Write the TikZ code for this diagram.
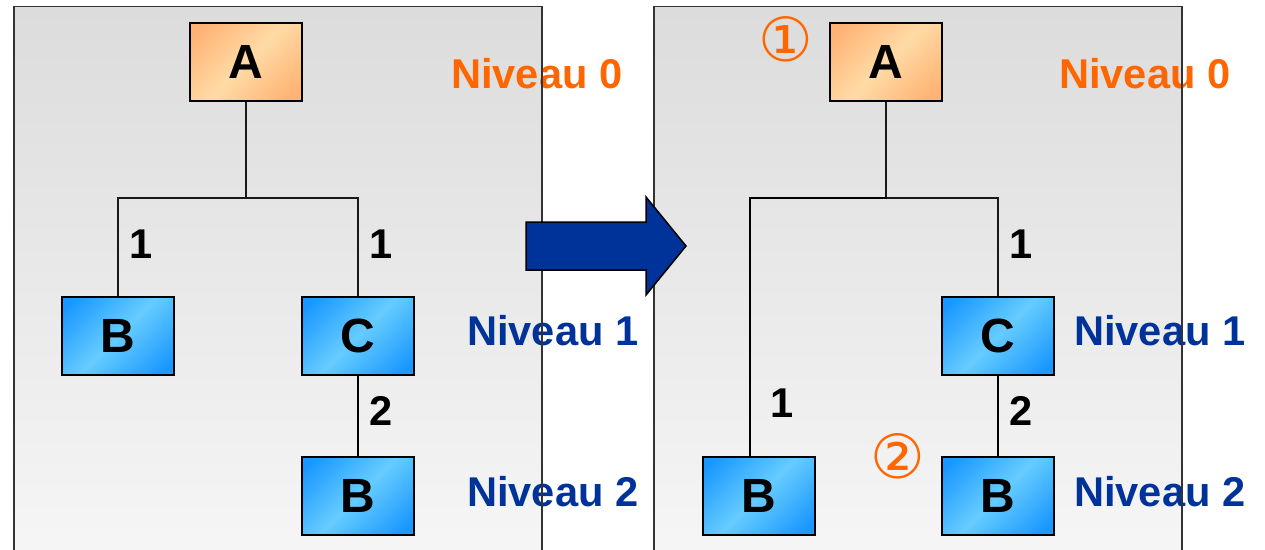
\documentclass[tikz,border=0pt]{standalone}
\usepackage{fontspec}
\setmainfont{Liberation Sans}
\newfontfamily\circfont{DejaVu Sans}
\definecolor{navyarrow}{HTML}{003399}
\definecolor{lvltext}{HTML}{003399}
\definecolor{orangetext}{HTML}{FF6600}
\definecolor{panelTop}{HTML}{DCDCDC}
\definecolor{panelBot}{HTML}{F6F6F6}
\definecolor{bdark}{HTML}{1A98FF}
\definecolor{blight}{HTML}{66CCFF}
\definecolor{odark}{HTML}{FFB273}
\definecolor{olight}{HTML}{FFDBA6}
\pgfdeclarehorizontalshading{blueref}{100bp}{color(0bp)=(bdark); color(20bp)=(bdark); color(50bp)=(blight); color(80bp)=(bdark); color(100bp)=(bdark)}
\pgfdeclarehorizontalshading{orangeref}{100bp}{color(0bp)=(odark); color(20bp)=(odark); color(50bp)=(olight); color(80bp)=(odark); color(100bp)=(odark)}
\begin{document}
\begin{tikzpicture}[x=1pt,y=-1pt,
  panel/.style={draw=black!80,line width=1.8pt},
  paneltint/.style={top color=panelTop,bottom color=panelBot,draw=none},
  blk/.style={draw=black,line width=2pt,minimum width=112pt,minimum height=78pt,inner sep=0pt,
     font=\fontsize{48}{50}\selectfont\bfseries},
  bluebox/.style={blk,shading=blueref,shading angle=-45},
  orangebox/.style={blk,shading=orangeref,shading angle=-45},
  thinline/.style={draw=black!90,line width=1.5pt},
  thickline/.style={draw=black,line width=2.6pt},
  edgelbl/.style={inner sep=0pt,font=\fontsize{41.6}{44}\selectfont\bfseries},
  lvl/.style={inner sep=0pt,anchor=west,font=\fontsize{41.6}{44}\selectfont\bfseries},
  circnum/.style={inner sep=0pt,text=orangetext,font=\circfont\fontsize{61}{64}\selectfont}
]
\useasboundingbox (0,0) rectangle (1265,549);
\clip (0,0) rectangle (1265,549);
\fill[white] (0,0) rectangle (1265,549);
% panel backgrounds
\shade[paneltint] (14,6.5) rectangle (542,560);
\shade[paneltint] (654,6.5) rectangle (1182,560);

% ---------- left tree ----------
\node[orangebox] (LA) at (246,62) {A};
\node[bluebox] (LB) at (118,335.5) {B};
\node[bluebox] (LC) at (358,335.5) {C};
\node[bluebox] (LB2) at (358,495.5) {B};
\coordinate (Lj) at (246,198);
\draw[thinline] (LA.south) -- (Lj);
\draw[thinline] (LB.north) |- (Lj) -| (LC.north);
\draw[thickline] (LC.south) -- (LB2.north);
\node[edgelbl] (Ll1) at (141,244) {1};
\node[edgelbl] (Ll2) at (381,244) {1};
\node[edgelbl] (Ll3) at (381,411) {2};
\node[lvl,text=orangetext] (Ln0) at (451,74) {Niveau 0};
\node[lvl,text=lvltext] (Ln1) at (467,331) {Niveau 1};
\node[lvl,text=lvltext] (Ln2) at (467,492) {Niveau 2};

% ---------- right tree ----------
\node[orangebox] (RA) at (886,62) {A};
\node[bluebox] (RB) at (758.5,495.5) {B};
\node[bluebox] (RC) at (998,335.5) {C};
\node[bluebox] (RB2) at (998,495.5) {B};
\coordinate (Rj) at (886,198);
\coordinate (Rk) at (750,198);
\draw[thinline] (RA.south) -- (Rj);
\draw[thinline] (Rj) -| (RC.north);
\draw[thickline,line cap=rect] (Rj) -- (Rk) -- (Rk |- RB.north);
\draw[thickline] (RC.south) -- (RB2.north);
\node[edgelbl] (Rl1) at (1021,244) {1};
\node[edgelbl] (Rl2) at (782,403) {1};
\node[edgelbl] (Rl3) at (1021,411) {2};
\node[lvl,text=orangetext] (Rn0) at (1059,74) {Niveau 0};
\node[lvl,text=lvltext] (Rn1) at (1074,331) {Niveau 1};
\node[lvl,text=lvltext] (Rn2) at (1074,492) {Niveau 2};
\node[circnum] (c1) at (785.5,39) {①};
\node[circnum] (c2) at (898,456) {②};

% panel borders on top of text
\draw[panel] (14,560) -- (14,6.5) -- (542,6.5) -- (542,560);
\draw[panel] (654,560) -- (654,6.5) -- (1182,6.5) -- (1182,560);

% big arrow
\draw[fill=navyarrow,draw=black,line width=1.5pt,line join=miter]
  (526,222) -- (646,222) -- (646,197) -- (686,246) -- (646,295) -- (646,270) -- (526,270) -- cycle;
\end{tikzpicture}
\end{document}
